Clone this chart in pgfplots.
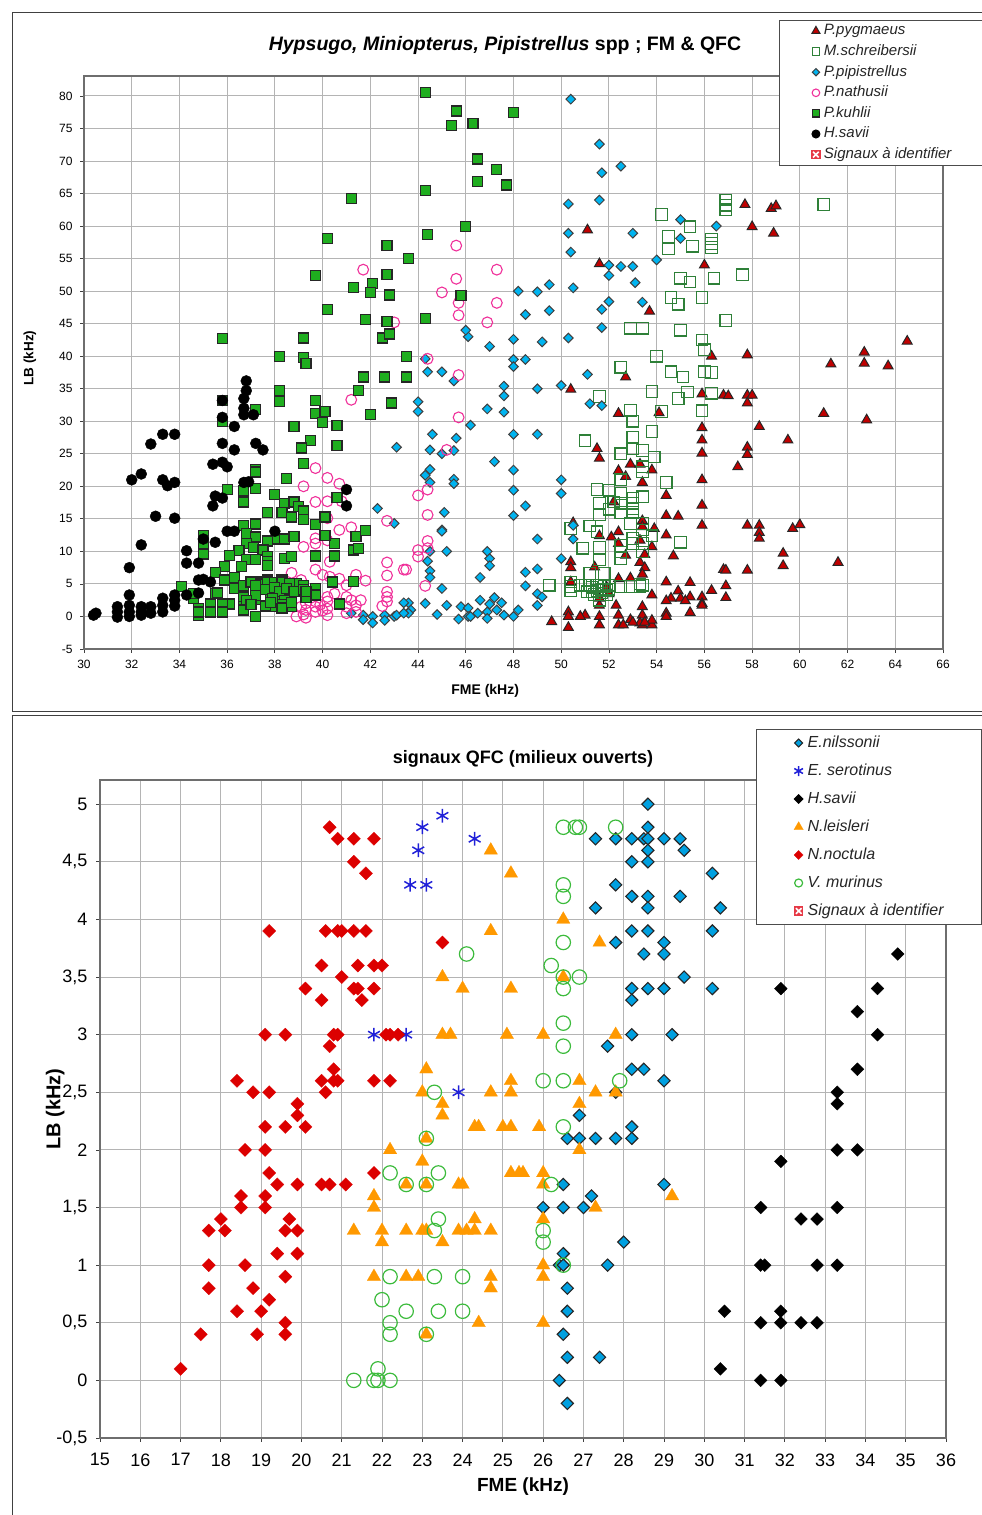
\documentclass[border=0pt]{standalone}
\usepackage{fontspec}
\setmainfont{Liberation Sans}
\usepackage{pgfplots}
\pgfplotsset{compat=1.18}
\usetikzlibrary{plotmarks}
\definecolor{gridc}{HTML}{B4B4B4}
\definecolor{axc}{HTML}{6E6E6E}
\definecolor{pyg}{HTML}{C00000}
\definecolor{sch}{HTML}{2E8038}
\definecolor{pip}{HTML}{00B4F0}
\definecolor{nat}{HTML}{F0309A}
\definecolor{kuh}{HTML}{1FAE1F}
\definecolor{nil}{HTML}{00A0E0}
\definecolor{ser}{HTML}{2020D8}
\definecolor{lei}{HTML}{FF9900}
\definecolor{noc}{HTML}{DC0000}
\definecolor{mur}{HTML}{3CBB3C}
\definecolor{sig}{HTML}{E63946}
\pgfdeclareplotmark{signal}{%
  \pgfpathrectangle{\pgfpoint{-4.6pt}{-4.6pt}}{\pgfpoint{9.2pt}{9.2pt}}%
  \pgfsetfillcolor{sig}\pgfusepathqfill
  \pgfsetstrokecolor{white}\pgfsetlinewidth{1.6pt}%
  \pgfpathmoveto{\pgfpoint{-2.8pt}{-2.8pt}}\pgfpathlineto{\pgfpoint{2.8pt}{2.8pt}}%
  \pgfpathmoveto{\pgfpoint{-2.8pt}{2.8pt}}\pgfpathlineto{\pgfpoint{2.8pt}{-2.8pt}}%
  \pgfusepathqstroke}
\pgfplotsset{
  common/.style={
    scale only axis, clip mode=individual,
    axis line style={axc,line width=1.2pt},
    grid=major, grid style={gridc,line width=1pt},
    tick align=outside, tick pos=left,
    major tick length=4pt, tick style={black!75,line width=0.8pt},
    /pgf/number format/assume math mode=true,
    legend cell align=left,
  },
  pm/.style={only marks,mark=triangle*,mark size=5.7pt,mark options={fill=pyg,draw=black!85,line width=1pt},legend image post style={mark size=4.6pt}},
  sm/.style={only marks,mark=square,mark size=5.8pt,mark options={draw=sch,line width=1.2pt},legend image post style={mark size=3.8pt}},
  im/.style={only marks,mark=square*,mark size=3.4pt,mark options={rotate=45,fill=pip,draw=black!75,line width=1pt},legend image post style={mark size=2.6pt}},
  nm/.style={only marks,mark=o,mark size=5.4pt,mark options={draw=nat,line width=1.1pt},legend image post style={mark size=3.8pt}},
  km/.style={only marks,mark=square*,mark size=5pt,mark options={fill=kuh,draw=black!85,line width=1.2pt},legend image post style={mark size=3.6pt}},
  hm/.style={only marks,mark=*,mark size=5.5pt,mark options={fill=black,draw=black},legend image post style={mark size=4pt}},
}
\pgfplotsset{
  legA/.code={\pgfplotsset{legend image code/.code={\path (0,0) (43pt,0); \draw[##1] plot coordinates {(36pt,0)};}}},
  legB/.code={\pgfplotsset{legend image code/.code={\path (0,0) (50pt,0); \draw[##1] plot coordinates {(42pt,0)};}}},
}
\begin{document}
\begin{tikzpicture}[x=1pt,y=1pt]
\path[use as bounding box,fill=white] (0,0) rectangle (982,1515);
\draw[black!75,line width=1pt] (982,1502) -- (12,1502) -- (12,803) -- (982,803);
\draw[black!75,line width=1pt] (982,799) -- (12,799) -- (12,0);

\begin{axis}[common, legA, at={(84pt,866pt)}, anchor=south west, width=859pt, height=573pt,
  xmin=30,xmax=66,ymin=-5,ymax=83.07,
  xtick={30,32,...,66}, ytick={-5,0,...,80},
  tick label style={font=\fontsize{12}{14}\selectfont},
  xticklabel style={yshift=-4pt}, yticklabel style={xshift=-4pt},
  xlabel={\bfseries FME (kHz)}, ylabel={\bfseries LB (kHz)},
  xlabel style={font=\fontsize{14}{16}\selectfont,at={(axis description cs:0.467,-0.073)},anchor=center},
  ylabel style={font=\fontsize{13.5}{16}\selectfont,at={(axis description cs:-0.063,0.508)},anchor=center},
  legend style={at={(0.809,1.0977)},anchor=north west,draw=black!70,line width=1pt,fill=white,text=black!85,
    font=\fontsize{15}{17}\selectfont\itshape,inner xsep=0pt,inner ysep=3pt,row sep=5.6pt,
    nodes={inner sep=0.5pt,text height=11pt,text depth=3pt}},
]
\addplot[pm] coordinates {
(51.1,59.4)(51.6,54.2)(57.7,63.3)(58.8,62.7)(59,63.1)(58,59.9)(58.9,58.9)(56,54)(53.7,46.9)
(56.3,40)(52.7,36.8)(50.4,34.9)(55.9,34.2)(56.8,34)(57,33.9)(52.4,31.2)(54.1,31.3)(55.9,29)(55.9,27.1)(55.9,25.1)
(51.5,25.8)(51.6,24.3)(52.9,23.4)(53.3,23.4)(53.8,22.5)(52.4,22.4)(52.7,21.5)(53.4,20.6)(55.9,21)(54.4,18.6)(52.2,17.6)
(55.9,17.1)(54.4,15.5)(54.9,15.4)(55.9,14)(50.5,14.4)(53.4,14.7)(53.4,13.8)(53.9,13.5)(54.4,12.5)(51.6,12.4)(52.1,12.2)
(52.4,13)(52.4,11.2)(53.3,11.7)(53.8,10.7)(54.7,9.3)(53.5,9.5)(52.7,9.4)(53.3,8.3)(53.5,7.5)(53.4,6.5)(56.8,7.2)
(50.4,8.4)(50.4,7.5)(51.4,7.6)(52.4,5.8)(52.9,5.9)(54.4,5.3)(55.4,5.2)(56.9,4.7)(56.9,2.9)(56.3,4)(54.9,3.9)(53.8,3.3)
(55.4,3)(54.6,2.8)(54.4,2.4)(55,2.8)(55.2,2.4)(55.9,3)(55.9,2)(55.9,1.7)(53.4,1.5)(55.4,0.6)(54.4,0.5)(54.4,0)
(53.8,-1.3)(53.4,0.2)(53.4,-1.3)(53.3,-1)(52.9,-0.5)(52.4,0.2)(52.4,-1.3)(52.6,-1.3)(52.3,1.7)(51.6,0)(51.6,-1.3)(51.6,1.7)
(51,0.2)(50.8,0)(50.3,0.7)(50.3,0)(50.3,-1.7)(49.6,-0.8)(50.4,5.3)(51.9,4.5)(52,3.5)(51.6,2.8)(53.8,-0.6)(53.5,-0.9)(53,-0.9)
(61.3,38.8)(62.7,40.6)(62.7,38.9)(63.7,38.5)(64.5,42.3)(61,31.2)(62.8,30.2)(59.5,27.1)(58.3,29.2)(57.8,34)(58,34)(57.8,32.8)
(57.8,40.2)(57.8,26)(57.8,24.9)(57.4,23)(57.8,14)(58.3,14)(58.3,12.9)(58.3,12)(59.7,13.5)(60,14.1)(61.6,8.3)(59.3,9.7)
(59.3,7.8)(57.8,7.1)(56.9,7.1)
};
\addlegendentry{P.pygmaeus}
\addplot[sm] coordinates {
(56.9,64)(56.9,63.2)(56.9,62.5)(61,63.3)(54.2,61.8)(55.4,59.9)(54.5,58.4)(54.5,56.5)(56.3,58)(56.3,57.3)(56.3,56.7)(55.5,56.9)
(55,52)(55.4,51.4)(56.4,52)(57.6,52.5)(54.6,49)(54.9,48)(55.9,49)(56.9,45.5)(52.9,44.3)(53.4,44.3)(55,44)(55.9,42.5)
(56,41)(54,40)(52.5,38.3)(54.6,37.6)(55.1,36.8)(56,37.6)(56.3,37.5)(53.8,34.6)(54.9,33.5)(55.3,34.5)(56.3,34.3)(51.6,33.8)
(52.9,31.7)(54.2,31.5)(55.9,31.6)(53,30)(53.8,28.4)(51,27)(53,27.5)(53,25.8)(53.4,25.5)(52.5,25)(53.9,24.5)(53.4,23)
(52.5,21)(53.4,22.2)(54.4,20.6)(51.5,19.5)(52,19.4)(52.5,18.9)(53.4,18.4)(53,18.2)(51.6,17.4)(52.2,17.6)(52,16.5)(52.5,17.4)
(52.5,16)(53,17.4)(53,16.6)(53,16)(51.6,15.6)(51.2,13.9)(51.5,13)(50.4,13.5)(52.9,14.3)(53.4,14.3)(53.4,13.3)(53.8,12.4)
(55,11.4)(53,12)(53,11.2)(53.4,11.2)(50.9,10.5)(51.6,10.6)(51.6,8.7)(52.5,10.9)(52.5,9.9)(52.5,8.9)(53.4,9.9)(51.2,6.6)
(51.8,6.6)(49.5,4.8)(50.4,5.3)(50.4,4.6)(50.4,3.9)(51,4.8)(51.2,4.8)(51.5,4.8)(51.6,4.8)(51.8,4.6)(52,4.8)(52.5,4.6)
(52.9,4.6)(53.3,4.6)(53.3,5)(53.4,4.8)(50.8,4.8)(51.1,3.8)(51.3,3.8)(51.6,2.5)(51.9,4)(51.3,4.5)(51.5,4)(51.7,3.6)(51.9,3.3)
(51.4,3.4)(51.7,4.2)(52,4.2)
};
\addlegendentry{M.schreibersii}
\addplot[im] coordinates {
(46.1,43)(46,44)(47,41.5)(48,42.6)(49.2,42.2)(50.3,42.8)(44.3,39.6)(48,39.5)(48.5,39.5)(48,38.4)(44.4,37.6)(45,37.6)(45.5,36.2)
(47.6,35.4)(49,35)(50,35.5)(47.6,33.9)(51.1,37.2)(44,33)(44,31.5)(51.2,32.7)(51.7,32.4)(46.9,31.9)(47.6,31.4)(46.2,29.4)
(44.6,28)(45.6,27.4)(48,28)(49,28)(44.5,25.6)(45,25)(45.5,25.5)(47.2,23.8)(44.5,22.6)(44.3,21.7)(44.5,20.6)(45.5,21.1)(45.5,20.4)
(48,22.5)(48,19.4)(50,21)(50,18.9)(48.5,17)(45.1,16)(48,15.5)(45,13.3)(45,13.1)(50.5,14)(49,11.9)(50.5,11.9)(44.5,10)(45.2,10)
(46.9,10)(47,8.9)(47,7.8)(44.4,8.5)(44.5,7)(44.5,6)(50,8.9)(46.6,6)(48.5,6.8)(49,7.3)(48.5,4.7)(45,4.3)(49,3.5)(49.2,3)(49,1.7)
(43.6,2.1)(43.7,1)(43.6,0.5)(44.3,2)(45.2,1.7)(44.8,0.3)(45.8,1.5)(46.1,1.3)(45.7,-0.4)(46.1,0)(46.2,0)(46.6,2.5)(46.5,0.5)
(47,1.9)(47.2,2.9)(47.5,2.1)(46.9,0.7)(46.9,-0.3)(47.3,1)(47.6,0.2)(48,0)(48.2,1)
(43.1,26)(42.3,16.6)(43,14.3)(41.2,0.5)(41.7,0.2)(41.7,-0.5)(42.1,0)(42.1,-1)(42.6,0.2)(42.6,-0.6)(43,0)(43.1,0.2)(43.4,2.1)(43.4,0.5)
(50.4,79.5)(51.6,72.6)(51.7,68.2)(52.5,69.2)(51.6,64)(50.3,63.4)(50.3,58.9)(53,58.9)(55,61)(55,58.1)(56.5,60)(50.4,56)(52,54)
(52.5,53.8)(53,53.8)(54,54.8)(52,52.4)(53.1,51.3)(50.5,50.5)(48.2,50)(49,49.9)(49.5,51)(49.5,47)(48.5,46.4)(52,48.4)(51.7,47.2)
(53.4,48.3)(51.7,44.4)
};
\addlegendentry{P.pipistrellus}
\addplot[nm] coordinates {
(41.7,53.3)(43,45.2)(45.6,57)(47.3,53.3)(45.6,51.9)(45,49.8)(45.7,48.2)(47.3,48.2)(45.7,46.3)(46.9,45.2)
(44.4,39.6)(45.7,37.1)(45.7,30.6)(45.2,25.6)(44.4,19.5)(44,18.6)(44.4,15.6)(44.4,11.6)(44,10.2)(44.4,10.5)(44,9.2)(43.5,7.2)(44.3,4.7)
(41.2,33.3)(39.7,22.8)(40.2,21.3)(40.7,20.4)(39.2,20)(39.7,17.6)(40.2,17.7)(40.8,17.7)(42.7,14.7)(40.2,15.1)(40.7,13.3)(41.2,13.7)
(39.7,12)(39.2,10.7)(39.7,11.2)(40.2,11.7)(40.3,8.4)(39.7,7.2)(38.7,6.7)(40,6.4)(40.3,6.1)(39.1,5.6)(40.7,5.8)(41.4,6.4)(41.8,5.5)
(42.7,8.3)(42.7,6.3)(42.7,3.8)(42.7,3)(42.7,2.3)(42.5,1.6)(43.4,7.2)(41,4.8)(41,3)(41.2,2.5)(41.6,2.5)(41.4,1.7)(41.4,0.7)(41,1.5)
(40.2,3)(40.2,2.3)(40.2,1.2)(40.2,0.2)(39.7,2.3)(39.7,1.5)(39.7,0.7)(39.3,3)(39.3,2)(39.3,1)(39.3,-0.2)(38.9,0)(39.1,1.5)(39.2,0.3)
(39.9,1.8)(40,0.9)(40.5,3.5)(41,0.5)
};
\addlegendentry{P.nathusii}
\addplot[km] coordinates {
(44.3,80.5)(45.6,77.7)(45.4,75.4)(46.3,75.8)(46.5,70.3)(47.3,68.7)(46.5,66.8)(44.3,65.5)(41.2,64.2)(46,59.9)(44.4,58.7)(40.2,58.1)
(42.7,57)(43.6,55)(39.7,52.4)(42.7,52.5)(42.1,51.2)(41.3,50.6)(42,49.8)(42.8,49.4)(45.8,49.3)(40.2,47.2)(41.8,45.7)(42.7,45.3)
(44.3,45.8)(35.8,42.7)(39.2,42.8)(42.5,42.8)(42.8,43.4)(48,77.4)(47.7,66.3)
(38.2,40)(39.2,39.8)(39.3,38.9)(43.5,40)(41.7,36.8)(42.6,36.8)(43.5,36.8)(41.5,34.7)(38.2,34.7)(38.2,33.1)(35.8,33.2)(39.7,33.2)
(39.7,31.2)(40.1,31.5)(40,29.8)(40.6,29.3)(38.8,29.2)(42.9,32.8)(42,31)(37.2,31.8)(35.8,30)(39.5,27.1)(39.1,25.9)(40.6,26.3)(39.2,23.5)
(37.2,22.6)(37.2,22.2)(38.5,21.2)(36,19.5)(36.7,19.4)(37.2,19.7)(36.7,17.6)(38,18.8)(38.4,17.4)(38.8,17.6)(39,16.9)(39.2,16.2)(40.6,18.3)
(37.7,16)(38.3,16)(38.7,15.3)(39.2,14.9)(39.7,14.1)(40.1,15.3)(36.7,14)(37.2,14.2)(35,12.5)(35,11.2)(35,9.6)(36.8,12.7)(37.2,12.2)
(37.7,11.6)(38.1,11.9)(38.4,11.9)(38.8,12.3)(36.8,11.2)(37.1,10.6)(37.5,10.2)(36.5,10.1)(36.1,9.4)(37.7,9.2)(36.8,8.7)(37.2,8.7)
(37.7,8.4)(37.7,7.8)(38.4,8.9)(38.7,9.2)(39.7,9.3)(40.5,9.3)(40.5,11.2)(40.1,12.4)(41.4,12.3)(41.8,13.2)(41.3,10.2)(41.5,10.5)
(36.6,7.7)(35.9,7.7)(35.5,6.7)(35.9,5.6)(36.3,6)(36.3,4.3)(36.7,4.7)(36.7,3)(37.2,4.2)(37.2,2.6)(37.2,0)(37,5.3)(37.4,5.3)(37.7,5.6)
(37.8,3.5)(38.2,4.3)(38.3,5.6)(38.7,4.8)(38.5,3.3)(38.3,2.6)(38.7,1.5)(37.9,1.5)(37.6,1.6)(36.7,1.5)(36.1,1.9)(35.8,1.9)(35.8,0.7)
(35.3,1.9)(35.3,0.7)(34.8,1.2)(34.8,0.2)(34.6,2.8)(34.6,3.5)(34.1,4.6)(35.5,3.5)(35.6,3.6)(38.9,5.1)(39.2,4.7)(39.7,4.3)(39.7,3.3)
(39.3,2.9)(40.4,5.3)(41.3,5.4)(40.7,1.9)
(37.4,5)(37.7,5.3)(38,5.2)(38.3,5.3)(38.6,5.1)(37.2,4.7)(37.6,4.2)(38,4.4)(38.2,3.8)(38.5,4.3)(38.8,3.8)(38.4,2.4)(38.3,1.8)(38.3,1.3)
(38.7,2.2)(37.9,2.8)(37.2,3.2)(36.8,2.5)(36.7,1)(37,1.8)(39.2,4.2)(39.3,3.8)(34.8,0.7)(37.8,2.2)
};
\addlegendentry{P.kuhlii}
\addplot[hm] coordinates {
(30.4,0.2)(30.5,0.5)(31.4,1.5)(31.4,0.7)(31.4,-0.1)(31.9,3.3)(31.9,1.7)(31.9,0.7)(31.9,0)(31.9,7.5)(32.4,11)(32.4,1.5)(32.4,0.7)(32.4,0.2)
(32.8,1.5)(32.8,0.5)(33,15.4)(32,21)(32.4,21.9)(32.8,26.5)(33.3,28)(33.8,28)(33.3,21)(33.5,20.1)(33.8,20.6)(33.8,15.1)(33.3,2.8)(33.3,1.7)
(33.3,0.7)(33.8,3.3)(33.8,2.5)(33.8,1.6)(34.3,3.3)(34.3,10.1)(34.3,8.2)(34.8,8.2)(35,11.9)(35.5,11.4)(34.8,5.6)(35,5.7)(35.3,5.3)(34.8,3.6)
(35.4,23.4)(35.8,23.7)(36,23)(35.8,26.6)(36.3,25.6)(35.8,30.6)(35.8,33.2)(36.3,29.2)(36.7,31)(37.1,31)(36.7,32)(36.7,33.5)(36.8,34.7)(36.8,36.2)
(37.2,26.6)(37.5,25.6)(36.7,20.6)(36.9,20.7)(35.5,18.5)(35.8,18.2)(35.4,17)(36,13.1)(36.3,13.1)(38,13.1)(41,19.5)(41,17)
};
\addlegendentry{H.savii}
\addlegendimage{only marks,mark=signal}
\addlegendentry{Signaux à identifier\hspace*{40pt}}
\end{axis}
\node[font=\fontsize{19.5}{22}\selectfont\bfseries] at (505,1470) {{\itshape Hypsugo, Miniopterus, Pipistrellus} spp ; FM \& QFC};

\begin{axis}[common, legB, at={(100pt,77pt)}, anchor=south west, width=846pt, height=658pt,
  xmin=15,xmax=36,ymin=-0.5,ymax=5.21,
  xtick={15,16,...,36}, ytick={-0.5,0,0.5,1,1.5,2,2.5,3,3.5,4,4.5,5},
  yticklabel style={xshift=-5pt,/pgf/number format/.cd,use comma,fixed,precision=1},
  xticklabel style={yshift=-8pt},
  tick label style={font=\fontsize{18}{20}\selectfont},
  xlabel={\bfseries FME (kHz)}, ylabel={\bfseries LB (kHz)},
  xlabel style={font=\fontsize{19}{22}\selectfont,at={(axis description cs:0.5,-0.0745)},anchor=center},
  ylabel style={font=\fontsize{20}{22}\selectfont,at={(axis description cs:-0.053,0.5)},anchor=center},
  legend style={at={(0.775,1.0775)},anchor=north west,draw=black!70,line width=1pt,fill=white,text=black!85,
    font=\fontsize{16}{18}\selectfont\itshape,inner xsep=0pt,inner ysep=5pt,row sep=11pt,
    nodes={inner sep=0.5pt,text height=12pt,text depth=4pt}},
]
\addplot[only marks,mark=square*,mark size=4.3pt,mark options={rotate=45,fill=nil,draw=black!85,line width=1.1pt},legend image post style={mark size=2.8pt}] coordinates {
(28.6,5)(28.6,4.8)(27.3,4.7)(27.8,4.7)(28.2,4.7)(28.5,4.7)(28.6,4.7)(29,4.7)(29.4,4.7)(28.6,4.6)(29.5,4.6)(28.2,4.5)(28.6,4.5)(30.2,4.4)
(27.8,4.3)(28.2,4.2)(28.6,4.2)(29.4,4.2)(27.3,4.1)(28.6,4.1)(30.4,4.1)(28.2,3.9)(28.6,3.9)(30.2,3.9)(27.8,3.8)(29,3.8)(28.5,3.7)(29,3.7)
(29.5,3.5)(28.2,3.4)(28.6,3.4)(29,3.4)(30.2,3.4)(28.2,3.3)(28.2,3)(29.2,3)(27.6,2.9)(28.2,2.7)(28.5,2.7)(29,2.6)(27.8,2.5)
(26.9,2.3)(28.2,2.2)(26.6,2.1)(26.9,2.1)(27.3,2.1)(27.8,2.1)(28.2,2.1)(26.5,1.7)(29,1.7)(27.2,1.6)(26,1.5)(26.5,1.5)(27,1.5)(28,1.2)
(26.5,1.1)(26.4,1)(26.5,1)(27.6,1)(26.6,0.8)(26.6,0.6)(26.5,0.4)(26.6,0.2)(27.4,0.2)(26.4,0)(26.6,-0.2)
};
\addlegendentry{E.nilssonii}
\addplot[only marks,mark=asterisk,mark size=6.8pt,mark options={draw=ser,line width=1.5pt},legend image post style={mark size=5pt}] coordinates {
(23.5,4.9)(23,4.8)(22.9,4.6)(24.3,4.7)(22.7,4.3)(23.1,4.3)(21.8,3)(22.6,3)(23.9,2.5)
};
\addlegendentry{E. serotinus}
\addplot[only marks,mark=square*,mark size=4.5pt,mark options={rotate=45,fill=black,draw=black},legend image post style={mark size=3pt}] coordinates {
(34.8,3.7)(31.9,3.4)(34.3,3.4)(33.8,3.2)(34.3,3)(33.8,2.7)(33.3,2.5)(33.3,2.4)(33.3,2)(33.8,2)(31.9,1.9)(31.4,1.5)(33.3,1.5)(32.4,1.4)(32.8,1.4)
(31.4,1)(31.5,1)(32.8,1)(33.3,1)(30.5,0.6)(31.9,0.6)(31.4,0.5)(31.9,0.5)(32.4,0.5)(32.8,0.5)(30.4,0.1)(31.4,0)(31.9,0)
};
\addlegendentry{H.savii}
\addplot[only marks,mark=triangle*,mark size=7.8pt,mark options={fill=lei,draw=lei,line width=0.2pt},legend image post style={mark size=5.4pt}] coordinates {
(24.7,4.6)(25.2,4.4)(24.7,3.9)(23.5,3.5)(24,3.4)(25.2,3.4)(23.5,3)(23.7,3)(25.1,3)(23.1,2.7)(25.2,2.6)(23,2.5)(24.7,2.5)(25.2,2.5)
(23.5,2.4)(23.5,2.3)(24.3,2.2)(24.4,2.2)(25,2.2)(25.2,2.2)(23.1,2.1)(22.2,2)(23,1.9)(25.2,1.8)(25.4,1.8)(22.6,1.7)(23.1,1.7)(23.9,1.7)(24,1.7)
(21.8,1.6)(21.8,1.5)(24.3,1.4)(21.3,1.3)(22,1.3)(22.6,1.3)(23,1.3)(23.1,1.3)(23.9,1.3)(24.1,1.3)(24.3,1.3)(24.7,1.3)(22,1.2)(23.5,1.2)
(21.8,0.9)(22.6,0.9)(22.9,0.9)(24.7,0.9)(24.7,0.8)(24.4,0.5)(23.1,0.4)
(26.5,4)(27.4,3.8)(26.5,3.5)(26,3)(27.8,3)(26.9,2.6)(27.3,2.5)(27.8,2.5)(26.9,2.4)(25.9,2.2)(26.9,2)(25.5,1.8)(26,1.8)(26,1.7)(29.2,1.6)(27.3,1.5)
(26,1.4)(26,1)(26,0.9)(26,0.5)
};
\addlegendentry{N.leisleri}
\addplot[only marks,mark=square*,mark size=4.7pt,mark options={rotate=45,fill=noc,draw=noc,line width=0.2pt},legend image post style={mark size=3.2pt}] coordinates {
(20.7,4.8)(20.9,4.7)(21.3,4.7)(21.8,4.7)(21.3,4.5)(21.6,4.4)(19.2,3.9)(20.6,3.9)(20.9,3.9)(21,3.9)(21.3,3.9)(21.6,3.9)(23.5,3.8)(20.5,3.6)(21.4,3.6)
(21.8,3.6)(22,3.6)(21,3.5)(20.1,3.4)(21.3,3.4)(21.4,3.4)(21.8,3.4)(20.5,3.3)(21.5,3.3)(19.1,3)(19.6,3)(20.8,3)(20.9,3)(22.1,3)(22.2,3)(22.4,3)
(20.7,2.9)(20.8,2.7)(18.4,2.6)(20.5,2.6)(20.8,2.6)(20.9,2.6)(21.8,2.6)(22.2,2.6)(18.8,2.5)(19.2,2.5)(20.6,2.5)
(19.9,2.4)(19.9,2.3)(19.1,2.2)(19.6,2.2)(20.1,2.2)(18.6,2)(19.1,2)(19.2,1.8)(19.4,1.7)(19.9,1.7)(20.5,1.7)(20.7,1.7)(21.1,1.7)(21.8,1.8)(18.5,1.6)(19.1,1.6)
(18.5,1.5)(19.1,1.5)(18,1.4)(19.7,1.4)(17.7,1.3)(18.1,1.3)(19.6,1.3)(19.9,1.3)(19.4,1.1)(19.9,1.1)(17.7,1)(18.6,1)(19.6,0.9)(17.7,0.8)(18.8,0.8)(19.2,0.7)
(18.4,0.6)(19,0.6)(19.6,0.5)(17.5,0.4)(18.9,0.4)(19.6,0.4)(17,0.1)
};
\addlegendentry{N.noctula}
\addplot[only marks,mark=o,mark size=7.2pt,mark options={draw=mur,line width=1.2pt},legend image post style={mark size=4pt}] coordinates {
(26.5,4.8)(26.8,4.8)(26.9,4.8)(27.8,4.8)(26.5,4.3)(26.5,4.2)(26.5,3.8)(26.2,3.6)(26.5,3.5)(26.9,3.5)(26.5,3.4)(26.5,3.1)(26.5,2.9)(26,2.6)(26.5,2.6)(27.9,2.6)
(24.1,3.7)(23.3,2.5)(26.5,2.2)(26.2,1.7)(26,1.3)(26,1.2)(26.5,1)
(23.1,2.1)(22.2,1.8)(22.6,1.7)(23.1,1.7)(23.4,1.8)(23.4,1.4)(23.3,1.3)(22.2,0.9)(23.3,0.9)(24,0.9)(22,0.7)(22.6,0.6)(23.4,0.6)(24,0.6)(22.2,0.5)(22.2,0.4)(23.1,0.4)
(21.9,0.1)(21.3,0)(21.8,0)(21.9,0)(22.2,0)
};
\addlegendentry{V. murinus}
\addlegendimage{only marks,mark=signal}
\addlegendentry{Signaux à identifier\hspace*{37pt}}
\end{axis}
\node[font=\fontsize{18}{20}\selectfont\bfseries] at (523,756) {signaux QFC (milieux ouverts)};
\end{tikzpicture}
\end{document}
